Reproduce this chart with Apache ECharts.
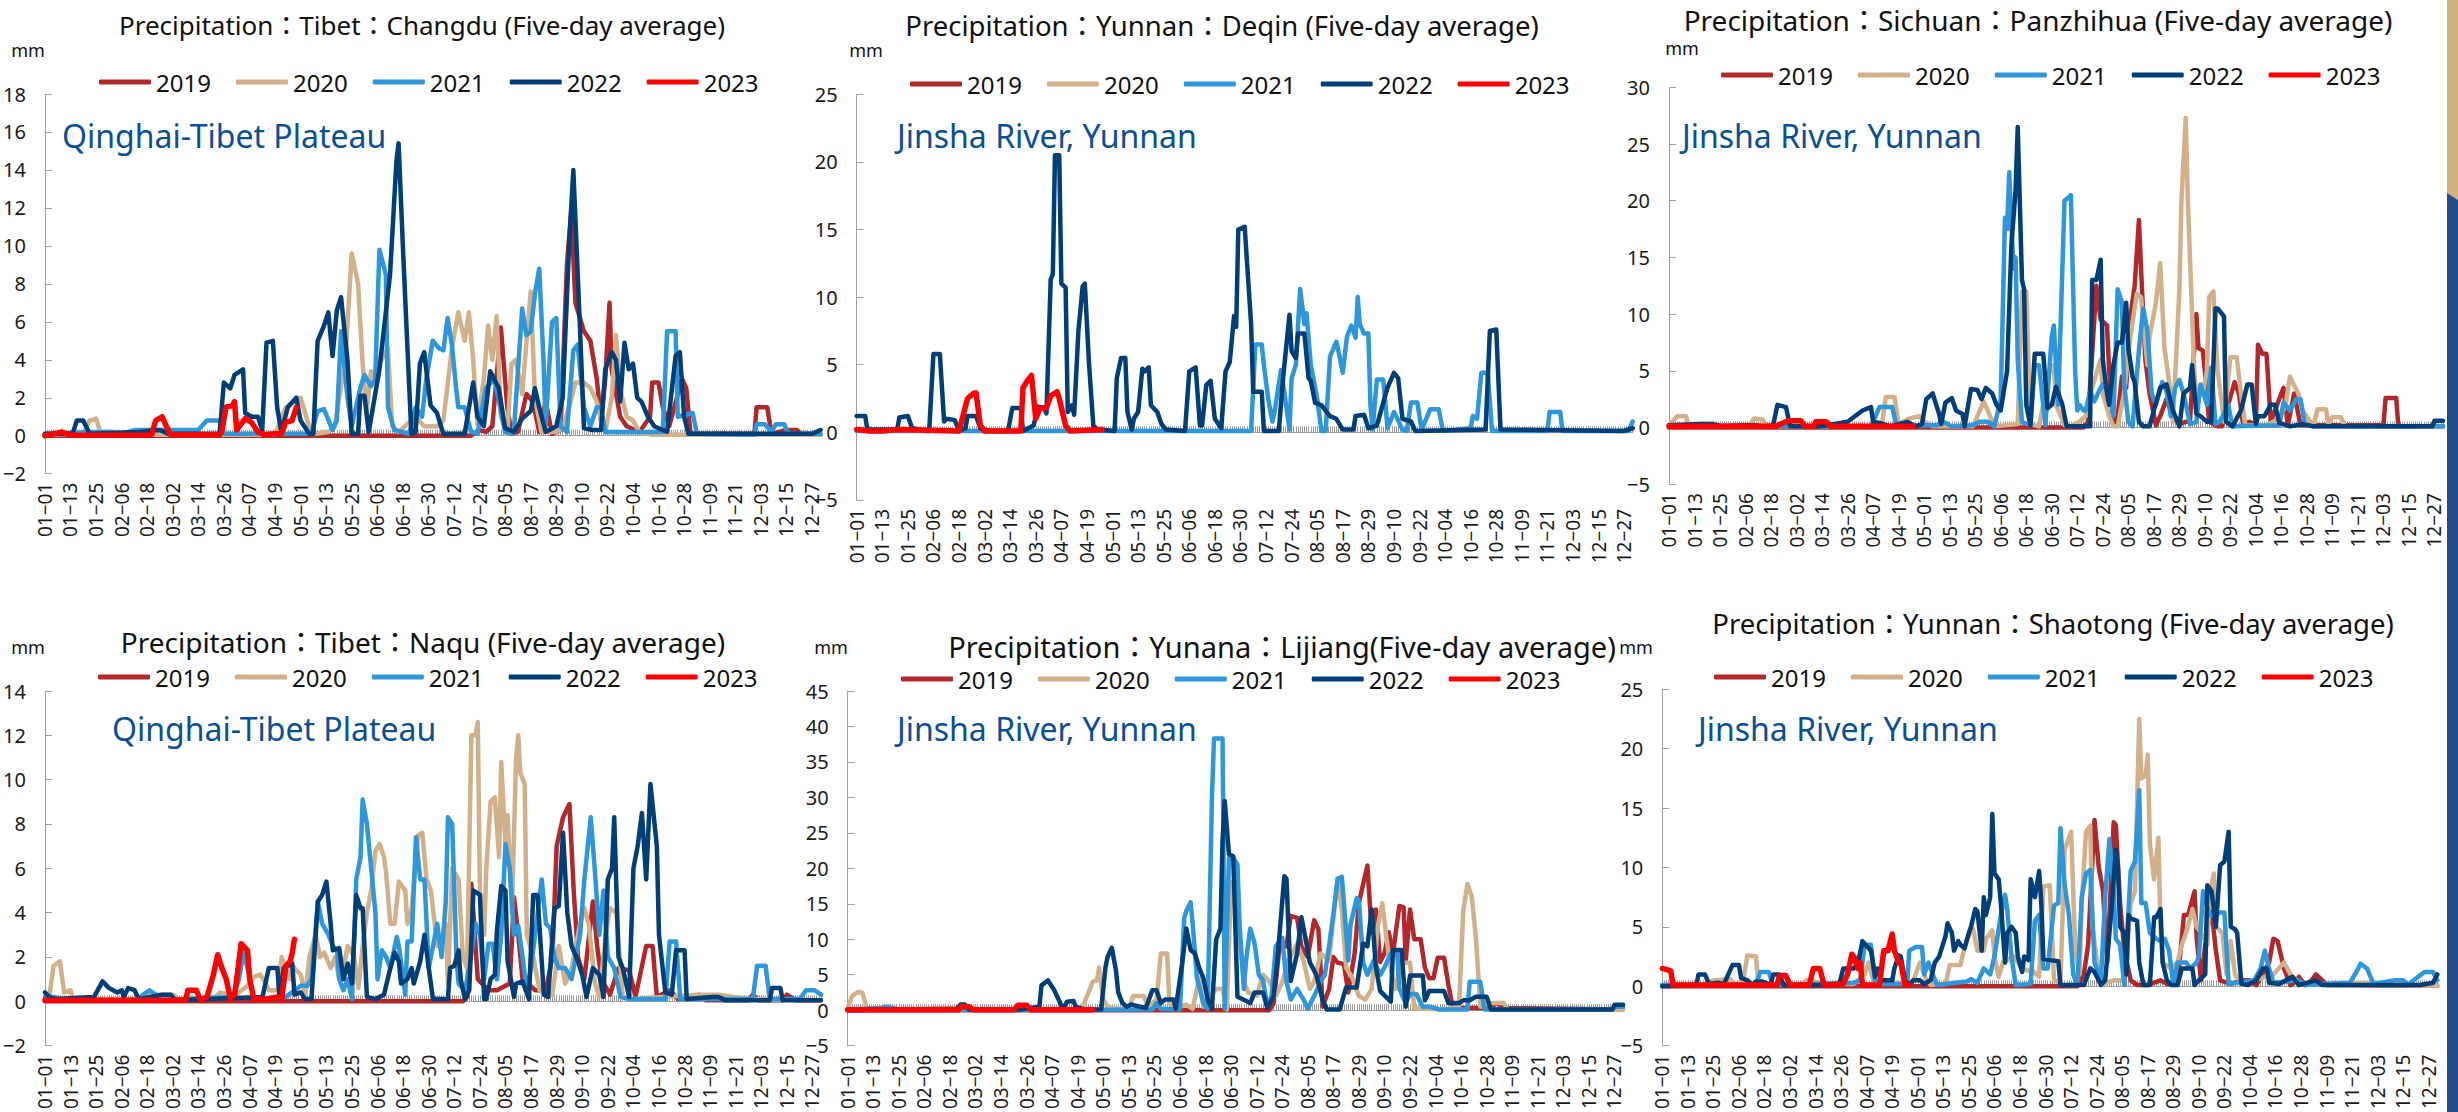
<!DOCTYPE html>
<html><head><meta charset="utf-8">
<script src="https://cdn.jsdelivr.net/npm/echarts/dist/echarts.min.js"></script>
<style>html,body{margin:0;padding:0;background:#fff;}#c{width:2458px;height:1112px;}</style>
</head><body><div id="c"></div>
<script>
// ---------- categories ----------
const monthLengths = [31,28,31,30,31,30,31,31,30,31,30,31];
const days = [];
monthLengths.forEach((n, m) => { for (let d = 1; d <= n; d++) days.push(String(m + 1).padStart(2, '0') + '-' + String(d).padStart(2, '0')); });
const years = ['2019', '2020', '2021', '2022', '2023'];

// ---------- panel texts / axes ----------
const titles = [
  'Precipitation\uFF1ATibet\uFF1AChangdu (Five-day average)',
  'Precipitation\uFF1AYunnan\uFF1ADeqin (Five-day average)',
  'Precipitation\uFF1ASichuan\uFF1APanzhihua (Five-day average)',
  'Precipitation\uFF1ATibet\uFF1ANaqu (Five-day average)',
  'Precipitation\uFF1AYunana\uFF1ALijiang(Five-day average)',
  'Precipitation\uFF1AYunnan\uFF1AShaotong (Five-day average)'
];
const notes = ['Qinghai-Tibet Plateau', 'Jinsha River, Yunnan', 'Jinsha River, Yunnan', 'Qinghai-Tibet Plateau', 'Jinsha River, Yunnan', 'Jinsha River, Yunnan'];
const unitLabel = 'mm';
const yMins = [-2, -5, -5, -2, -5, -5];
const yMaxs = [18, 25, 30, 14, 45, 25];
const ySteps = [2, 5, 5, 2, 5, 5];

// ---------- data: [day-of-year index (0 = 01-01), mm] ----------
const changdu2019 = [[0,0],[200,0],[204,0.3],[207,0.2],[210,0.5],[214,5.7],[217,1.5],[219,0.1],[222,0.2],[226,2.2],[229,1.8],[232,0.2],[235,1.8],[238,0.1],[242,0.3],[245,9.0],[247,11.8],[249,7.0],[253,5.5],[256,5.0],[259,3.0],[261,0.8],[263,3.0],[265,7.0],[266,3.5],[270,1.0],[273,0.5],[279,0.2],[284,1.0],[285,2.8],[288,2.8],[290,1.5],[293,0.5],[299,3.0],[301,2.5],[303,0.1],[333,0.1],[334,1.5],[339,1.5],[341,0.1],[348,0.3],[353,0.3],[355,0.05],[364,0.05]];
const changdu2020 = [[0,0.05],[18,0.1],[21,0.8],[24,0.9],[26,0.2],[32,0.2],[35,0.05],[108,0.05],[113,1.5],[117,1.8],[120,2.0],[124,0.5],[127,0.1],[133,0.2],[136,0.5],[141,4.0],[144,9.6],[147,8.0],[149,4.0],[151,1.2],[153,3.4],[155,3.1],[158,4.0],[161,4.6],[163,0.5],[166,0.2],[174,1.0],[178,0.5],[184,0.5],[187,0.8],[191,4.6],[194,6.5],[197,5.0],[199,6.5],[201,4.0],[203,0.6],[206,3.0],[208,5.8],[210,4.0],[212,6.3],[214,1.0],[217,0.1],[219,3.8],[221,4.0],[224,2.2],[228,7.6],[230,2.0],[233,0.2],[240,0.2],[243,0.4],[246,1.5],[249,2.8],[253,2.8],[256,2.5],[259,1.8],[261,0.8],[263,0.2],[266,2.0],[268,5.3],[270,2.5],[273,1.0],[276,0.8],[279,0.2],[285,0.05],[364,0.05]];
const changdu2021 = [[0,0.1],[24,0.2],[30,0.2],[36,0.1],[42,0.3],[72,0.3],[76,0.8],[82,0.8],[84,0.1],[125,0.1],[128,1.3],[131,1.4],[135,0.3],[137,0.8],[139,5.5],[142,2.0],[144,0.5],[148,2.5],[150,3.2],[153,2.6],[155,3.0],[157,9.8],[160,8.5],[161,1.5],[164,0.3],[171,0.1],[174,1.5],[177,1.0],[179,3.0],[182,5.0],[185,4.6],[187,4.5],[189,6.2],[191,4.8],[193,2.5],[194,1.5],[197,1.5],[200,0.2],[203,0.1],[207,2.5],[211,3.0],[216,0.2],[220,0.1],[224,6.7],[226,5.3],[228,5.5],[230,7.5],[232,8.8],[234,4.0],[235,0.5],[238,6.0],[240,6.2],[242,0.5],[245,0.2],[248,4.5],[250,4.8],[253,1.5],[256,0.5],[259,1.5],[261,1.5],[263,0.2],[290,0.2],[292,5.5],[296,5.5],[297,1.0],[304,1.2],[306,0.1],[333,0.05],[334,0.6],[338,0.6],[341,0.2],[343,0.6],[347,0.6],[349,0.1],[364,0.1]];
const changdu2022 = [[0,0.1],[13,0.1],[15,0.8],[18,0.8],[21,0.1],[44,0.2],[54,0.3],[58,0.1],[82,0.1],[84,2.8],[87,2.5],[89,3.2],[93,3.5],[94,1.2],[97,1.0],[100,1.0],[102,0.3],[104,4.9],[107,5.0],[109,1.5],[111,0.2],[114,1.5],[118,2.0],[120,0.8],[124,0.1],[126,0.1],[128,5.0],[131,5.8],[133,6.5],[135,4.2],[137,6.6],[139,7.3],[142,4.0],[144,0.1],[147,0.1],[148,2.1],[150,2.1],[152,0.2],[157,3.5],[162,8.5],[165,14.5],[166,15.4],[168,10],[170,5],[172,0.1],[174,0.2],[176,3.8],[178,4.4],[181,1.6],[184,1.2],[187,0.1],[197,0.1],[201,2.8],[203,1.0],[206,0.5],[209,3.4],[213,2.5],[216,0.4],[220,0.2],[224,0.9],[228,1.3],[230,2.5],[232,1.5],[235,0.2],[240,0.5],[243,2.0],[246,10],[248,14.0],[251,6],[253,0.4],[257,0.3],[261,0.3],[263,3.5],[266,4.4],[268,4.0],[270,1.8],[272,4.9],[274,3.5],[276,3.8],[278,2.0],[280,1.8],[283,1.0],[286,0.5],[292,0.2],[296,4.2],[298,4.4],[300,1.0],[302,0.1],[360,0.1],[364,0.3]];
const changdu2023 = [[0,0],[4,0.1],[8,0.2],[10,0.1],[14,0.02],[50,0.02],[52,0.8],[55,1.0],[57,0.5],[59,0.05],[82,0.05],[83,0.2],[85,1.5],[88,1.6],[89,1.8],[90,0.3],[94,0.9],[97,0.7],[100,0.2],[103,0.05],[108,0.1],[111,0.1],[113,0.7],[116,0.8],[118,1.5]];

const deqin2019 = [];
const deqin2020 = [];
const deqin2021 = [[0,0.1],[185,0.1],[187,6.5],[190,6.5],[191,5.0],[193,2.5],[195,0.8],[196,1.5],[199,4.6],[201,2.5],[203,0.2],[204,4.0],[206,5.0],[208,10.6],[210,8.0],[211,8.8],[213,5.0],[216,2.5],[218,0.1],[220,0.1],[222,5.6],[225,6.7],[226,6.0],[228,4.4],[230,7.1],[232,7.9],[234,7.0],[235,10.0],[236,8.0],[238,7.3],[240,7.3],[241,2.0],[242,0.2],[244,3.9],[247,3.9],[249,0.3],[252,1.5],[253,1.2],[256,0.2],[258,0.1],[260,2.2],[263,2.2],[265,0.2],[269,1.7],[273,1.7],[275,0.1],[288,0.3],[289,1.2],[291,1.0],[293,4.4],[296,4.4],[298,0.1],[324,0.1],[325,1.5],[330,1.5],[331,0.1],[362,0.1],[364,0.8]];
const deqin2022 = [[0,1.2],[4,1.2],[5,0.2],[19,0.2],[20,1.1],[24,1.2],[26,0.3],[33,0.1],[34,0.1],[36,5.8],[39,5.8],[41,0.8],[42,1.0],[46,0.9],[48,0.1],[51,0.3],[52,1.2],[56,1.2],[58,0.3],[62,0.1],[71,0.1],[73,1.8],[77,1.8],[78,0.1],[83,0.5],[85,1.9],[88,1.8],[89,1.4],[91,11.3],[92,11.7],[93,20.5],[95,20.5],[96,11],[98,10.7],[99,1.5],[101,2.0],[102,1.3],[104,7.5],[106,10.8],[107,11.0],[109,5.0],[111,0.5],[113,0.2],[121,0.1],[122,4.0],[124,5.5],[126,5.5],[127,1.5],[129,0.2],[130,1.0],[132,1.5],[134,4.7],[135,4.5],[137,4.8],[138,2.0],[141,1.5],[143,0.6],[145,0.2],[154,0.1],[156,4.5],[159,4.8],[161,0.5],[162,0.5],[164,3.5],[166,3.8],[168,1.0],[171,0.3],[173,4.5],[175,5.2],[177,8.6],[178,7.8],[179,15.0],[182,15.2],[185,8],[186,3.0],[190,3.0],[191,0.1],[198,0.1],[200,4.0],[203,8.7],[204,6.0],[206,5.5],[207,7.3],[210,7.3],[212,4.0],[213,3.8],[215,2.2],[218,2.0],[222,1.2],[225,1.0],[228,0.2],[233,0.2],[234,1.2],[238,1.3],[240,0.3],[244,0.5],[247,2.2],[249,3.3],[252,4.4],[254,4.0],[256,1.0],[260,0.8],[262,0.1],[295,0.2],[297,7.5],[300,7.6],[302,0.2],[360,0.1],[364,0.3]];
const deqin2023 = [[0,0.2],[6,0.1],[12,0.1],[19,0.2],[48,0.1],[52,2.5],[55,2.9],[56,2.9],[58,0.5],[60,0.1],[77,0.1],[78,3.3],[80,3.8],[82,4.2],[84,1.0],[86,1.8],[89,1.8],[91,2.7],[94,3.0],[95,2.5],[98,0.5],[100,0.1],[115,0.2]];

const panzhihua2019 = [[0,0],[195,0],[197,0.5],[201,12.5],[203,9.5],[206,9.0],[207,5.0],[209,0.2],[211,1.0],[213,4.5],[215,3.5],[217,9.8],[219,12.5],[221,18.3],[222,14],[224,6.0],[226,3.0],[229,0.2],[231,1.0],[234,2.5],[236,1.5],[240,0.3],[243,0.5],[245,0.5],[248,10.0],[249,7.0],[251,6.8],[252,5.0],[254,0.5],[258,0.1],[260,0.1],[266,4.0],[268,3.0],[270,0.3],[273,0.5],[276,0.2],[277,7.3],[279,6.5],[281,6.5],[283,0.5],[289,3.5],[291,0.2],[294,3.0],[297,0.2],[336,0.2],[337,2.6],[342,2.6],[343,0.1],[364,0.1]];
const panzhihua2020 = [[0,0.2],[4,1.0],[8,1.0],[9,0.2],[38,0.2],[40,0.8],[44,0.7],[46,0.1],[100,0.1],[102,2.7],[106,2.7],[108,0.3],[113,0.8],[118,1.0],[120,0.5],[124,0.1],[143,0.1],[148,2.3],[151,1.0],[153,0.1],[164,0.3],[166,12],[168,12],[170,0.3],[174,0.1],[179,5.0],[181,5.5],[182,2.0],[186,0.2],[189,0.1],[193,0.5],[196,1.0],[199,3.5],[203,6.0],[204,3],[207,1.0],[209,0.1],[211,0.1],[214,3.0],[217,8.0],[220,11.8],[222,11.5],[225,5.5],[226,8.0],[229,11.0],[231,14.5],[233,7.0],[236,3.0],[237,0.5],[240,12.0],[241,20.0],[243,27.3],[244,20],[247,5],[248,3.0],[251,3.0],[253,5.0],[254,11.5],[256,12.0],[258,5.0],[261,0.5],[264,6.2],[267,6.2],[269,3.0],[271,0.2],[281,0.2],[287,0.8],[290,2.0],[292,4.5],[294,3.7],[296,3.0],[298,1.5],[303,0.1],[305,1.6],[309,1.6],[310,0.3],[312,0.9],[316,0.9],[318,0.1],[364,0.05]];
const panzhihua2021 = [[0,0.1],[95,0.1],[99,1.8],[105,1.8],[107,0.1],[121,0.2],[126,0.2],[129,0.5],[133,0.1],[143,0.2],[146,0.5],[150,0.5],[153,0.1],[156,2.5],[158,18.5],[159,17.5],[160,22.5],[161,18],[162,14],[163,15],[164,6.0],[165,3.0],[166,0.5],[170,0.2],[172,5.5],[174,5.5],[177,0.2],[180,8.0],[181,9.0],[183,2.0],[186,20],[188,20.3],[189,20.5],[191,5.0],[192,1.5],[193,2.0],[195,1.5],[196,1.5],[198,3.2],[200,2.3],[203,3.5],[204,3.8],[207,3.0],[209,1.0],[211,12.2],[213,11],[214,4],[216,0.5],[218,0.1],[221,6.8],[223,10.5],[225,8.5],[227,3],[229,2.0],[232,4.0],[234,3.2],[236,1.0],[238,3.5],[240,4.2],[242,3.0],[245,0.3],[248,0.5],[250,3.8],[253,2.0],[255,5.3],[257,0.3],[259,0.5],[263,2.0],[265,0.1],[287,0.2],[289,2.2],[292,1.5],[295,2.5],[297,2.5],[299,0.3],[303,0.1],[364,0.1]];
const panzhihua2022 = [[0,0.2],[15,0.3],[21,0.3],[25,0.1],[35,0.2],[40,0.2],[45,0.1],[49,0.2],[51,2.0],[55,1.8],[57,0.1],[71,0.1],[84,0.5],[91,1.5],[95,1.8],[96,0.5],[99,0.4],[104,0.1],[112,0.5],[116,0.1],[119,0.3],[121,2.5],[124,3.0],[127,1.2],[128,0.3],[130,2.2],[133,2.6],[135,1.5],[138,1.2],[139,0.1],[142,3.4],[145,3.3],[147,2.5],[149,3.5],[152,3.0],[154,2.0],[156,1.5],[159,5.0],[161,16.0],[163,21],[164,26.5],[166,13],[167,12.2],[168,2.0],[170,0.2],[172,6.5],[176,6.5],[178,1.7],[180,2.0],[182,3.6],[185,2.0],[187,0.1],[198,0.1],[199,13],[201,13],[203,14.8],[204,6],[206,3.0],[207,2.0],[209,5.5],[211,7.5],[213,7.5],[215,11.0],[216,7],[218,4.5],[219,4.0],[221,0.5],[223,0.1],[226,0.1],[228,1.5],[231,3.5],[234,3.8],[237,1.5],[240,0.1],[242,3.0],[245,3.5],[246,5.5],[248,1.2],[250,1.0],[253,0.5],[255,0.5],[257,10.5],[258,10.5],[261,9.8],[262,0.5],[265,0.1],[269,1.5],[272,3.8],[274,3.8],[276,0.3],[277,1.0],[280,1.0],[283,2.0],[285,2.0],[287,0.4],[292,0.1],[298,0.3],[303,0.1],[359,0.1],[360,0.6],[364,0.6]];
const panzhihua2023 = [[0,0.1],[50,0.1],[56,0.6],[62,0.6],[64,0.1],[68,0.1],[69,0.5],[74,0.5],[76,0.1],[115,0.1]];

const naqu2019 = [[0,0],[196,0],[198,0.2],[200,5.3],[203,1.0],[208,0.5],[212,0.5],[218,0.8],[220,4.7],[222,3.0],[224,1.0],[230,0.5],[235,0.5],[238,2.0],[240,7.0],[243,8.3],[246,8.9],[248,5.0],[250,2.0],[253,1.0],[257,4.5],[259,2.5],[261,1.0],[265,0.3],[269,1.5],[274,1.4],[277,0.2],[282,2.5],[285,2.5],[287,0.2],[293,0.5],[297,0.1],[307,0.3],[310,0.05],[330,0.05],[332,0.3],[335,0.05],[346,0.05],[348,0.3],[352,0.05],[364,0.05]];
const naqu2020 = [[0,0.1],[2,0.2],[4,1.6],[7,1.8],[9,0.4],[12,0.5],[13,0.1],[45,0.1],[49,0.3],[57,0.3],[60,0.3],[63,0.1],[80,0.2],[82,0.4],[87,0.3],[91,0.4],[95,0.7],[98,1.1],[101,1.2],[103,0.9],[105,0.5],[109,0.5],[111,2.0],[113,1.5],[115,1.0],[116,1.6],[119,1.3],[120,1.2],[122,0.2],[124,2.0],[127,3.0],[129,2.0],[131,2.2],[134,1.5],[136,2.0],[138,1.0],[141,2.0],[142,2.5],[145,2.0],[147,0.6],[149,2.5],[151,4.0],[153,5.0],[155,6.8],[157,7.1],[159,6.5],[160,5.8],[162,3.5],[164,3.5],[166,5.4],[169,5.0],[170,3.5],[172,4.2],[175,7.5],[177,7.6],[179,5.5],[181,5.0],[184,2.5],[186,2.5],[188,3.5],[189,0.8],[191,6.0],[194,5.5],[196,2.0],[198,1.5],[200,12.0],[202,12.0],[203,12.6],[204,5.0],[206,3.0],[207,6.0],[209,9.0],[211,9.2],[213,6.5],[214,10.8],[216,7.0],[217,8.4],[219,4.0],[221,11.0],[222,12.0],[223,10.3],[225,9.8],[226,3.0],[229,2.0],[232,0.5],[235,0.3],[238,0.3],[241,2.5],[244,0.8],[247,1.5],[251,3.5],[253,4.2],[255,3.5],[258,0.8],[260,0.2],[263,3.0],[265,4.2],[268,4.0],[271,0.2],[276,0.1],[306,0.3],[316,0.3],[323,0.2],[332,0.1],[364,0.05]];
const naqu2021 = [[0,0.2],[4,0.2],[10,0.05],[44,0.05],[46,0.3],[49,0.5],[52,0.3],[53,0.05],[88,0.2],[91,1.0],[93,2.2],[95,1.5],[98,0.1],[113,0.2],[120,0.7],[123,0.7],[125,1.0],[128,4.5],[130,3.5],[133,3.0],[135,2.5],[137,2.3],[138,1.0],[140,0.5],[142,1.0],[144,0.1],[146,5.5],[148,6.5],[149,9.1],[151,8.0],[153,6.0],[155,4.0],[156,1.0],[158,2.3],[160,2.0],[162,1.5],[165,2.9],[166,2.5],[169,0.3],[170,2.7],[172,2.7],[174,7.4],[176,5.5],[178,5.5],[180,1.5],[182,2.5],[184,3.5],[186,2.0],[188,4.5],[189,8.3],[191,8.0],[193,2.0],[194,0.8],[197,0.5],[199,1.5],[202,3.5],[204,3.0],[206,1.0],[208,2.6],[210,2.6],[212,1.0],[214,3.0],[216,7.1],[218,6.0],[220,3.0],[222,3.4],[224,2.0],[226,0.5],[228,1.5],[233,5.5],[235,3.5],[237,3.3],[239,2.0],[241,1.5],[244,1.5],[247,1.0],[251,3.0],[253,5.5],[256,8.3],[258,5.8],[260,3.0],[262,5.0],[264,2.0],[267,1.5],[270,0.2],[274,0.1],[291,0.1],[293,2.7],[296,2.7],[298,0.1],[332,0.1],[334,1.6],[338,1.6],[340,0.1],[354,0.1],[357,0.5],[361,0.5],[364,0.3]];
const naqu2022 = [[0,0.4],[2,0.2],[5,0.1],[23,0.2],[27,0.9],[30,0.6],[34,0.4],[36,0.5],[37,0.2],[39,0.6],[42,0.5],[44,0.1],[55,0.3],[59,0.3],[61,0.05],[102,0.2],[105,1.5],[109,1.5],[110,0.2],[112,1.5],[116,1.7],[117,0.3],[120,0.4],[122,0.1],[125,0.1],[128,4.5],[130,4.8],[132,5.4],[134,3.5],[135,2.3],[138,2.4],[140,1.0],[142,1.7],[144,0.8],[146,4.8],[148,4.2],[149,4.2],[151,0.2],[155,0.1],[159,0.3],[162,1.5],[164,2.2],[166,1.8],[167,0.8],[170,1.0],[172,1.5],[173,0.8],[176,1.8],[178,3.0],[180,1.5],[182,0.1],[189,0.1],[190,1.5],[192,1.6],[194,2.3],[195,1.0],[197,0.1],[199,0.5],[201,5.0],[204,4.8],[206,0.1],[207,0.1],[209,1.0],[211,1.2],[212,3.2],[214,5.2],[216,5.0],[217,1.8],[220,0.2],[221,0.8],[224,0.9],[227,0.1],[229,4.8],[231,4.8],[234,0.3],[236,0.2],[239,4.2],[241,4.3],[243,7.6],[245,4.0],[247,2.5],[250,1.8],[252,1.2],[254,0.2],[257,1.5],[260,1.2],[262,0.2],[264,5.5],[266,6.0],[267,8.3],[269,2.0],[271,1.5],[274,0.2],[276,6.0],[278,7.0],[280,8.5],[282,5.5],[284,9.8],[287,7.0],[288,3.0],[291,0.4],[294,0.3],[296,2.3],[300,2.3],[301,0.1],[313,0.2],[316,0.2],[319,0.05],[340,0.05],[341,0.6],[345,0.6],[346,0.05],[364,0.05]];
const naqu2023 = [[0,0.05],[66,0.05],[67,0.5],[71,0.5],[73,0.05],[76,0.2],[79,1.2],[81,2.1],[83,1.5],[85,1.0],[87,0.1],[89,0.3],[92,2.6],[95,2.3],[96,1.0],[98,0.1],[104,0.1],[109,0.2],[111,0.1],[113,1.6],[115,1.8],[116,2.2],[117,2.8]];

const lijiang2019 = [[0,0],[198,0],[200,1.0],[203,9.8],[206,9.0],[208,13.3],[211,13.0],[213,9.0],[216,7.5],[219,12.7],[221,11.4],[223,0.5],[226,3.0],[228,7.5],[230,6.7],[233,6.5],[235,2.5],[238,8.0],[240,15.1],[244,20.4],[246,11.0],[248,14.2],[250,6.8],[252,8.0],[254,11.0],[256,8.0],[259,14.7],[261,14.5],[262,7.0],[264,14.2],[266,10.0],[269,10.0],[271,6.0],[273,4.5],[275,4.5],[277,7.4],[280,7.4],[282,3.6],[284,0.5],[289,0.3],[300,0.3],[305,1.0],[308,0.3],[364,0.1]];
const lijiang2020 = [[0,0.2],[2,2.0],[5,2.6],[7,2.4],[9,0.2],[14,0.05],[53,0.3],[59,0.3],[62,0.05],[110,0.2],[115,4.0],[117,4.2],[118,6.0],[120,1.5],[122,0.5],[125,0.2],[132,0.2],[134,2.0],[139,2.0],[141,0.5],[145,1.5],[147,8.0],[150,8.0],[151,1.0],[154,0.3],[159,0.8],[162,0.2],[165,4.5],[167,0.5],[173,3.0],[176,3.0],[178,0.1],[180,18],[183,17],[184,10],[186,4.0],[188,2.5],[192,2.0],[195,5.0],[198,4.0],[201,2.0],[204,4.0],[207,7.0],[211,9.4],[214,7.0],[217,3.0],[219,4.0],[222,8.0],[226,7.0],[230,18.6],[232,14],[234,6.0],[237,4.5],[240,2.0],[243,1.5],[246,3.0],[249,12.0],[251,15.1],[253,10.0],[255,5.8],[257,3.0],[260,6.7],[264,6.7],[266,0.3],[273,0.2],[280,0.1],[287,0.5],[289,14],[291,17.8],[293,16.0],[295,10.0],[297,0.5],[302,1.0],[308,1.0],[310,0.1],[364,0.05]];
const lijiang2021 = [[0,0.1],[15,0.3],[19,0.5],[21,0.3],[25,0.05],[143,0.1],[145,1.0],[147,0.2],[156,0.1],[158,13],[159,14.0],[161,15.2],[162,12],[164,4.5],[167,1.0],[169,0.2],[171,30],[172,38.3],[176,38.3],[177,0.2],[179,21.5],[181,21.5],[183,20.5],[184,12],[186,3.0],[187,7.0],[189,11.5],[191,9.5],[193,5.0],[195,4.2],[197,0.5],[199,2.0],[201,9.0],[204,10.2],[206,4.0],[208,1.5],[211,3.0],[214,1.5],[216,0.2],[219,2.0],[222,4.0],[224,5.0],[226,9.0],[228,13.5],[230,18.5],[232,18.8],[233,15.0],[235,7.0],[236,12],[239,15.8],[240,15.5],[242,6.7],[244,5.0],[247,7.0],[250,5.0],[252,6.0],[255,8.0],[258,8.0],[259,3.0],[262,1.0],[264,2.3],[267,2.3],[270,0.5],[273,0.5],[278,0.1],[291,0.1],[292,4.0],[297,4.0],[299,0.1],[358,0.1],[361,0.5],[364,0.5]];
const lijiang2022 = [[0,0],[51,0.2],[53,0.8],[55,0.8],[57,0.1],[81,0.1],[90,0.5],[91,3.5],[94,4.2],[97,2.8],[99,1.5],[101,0.2],[103,1.2],[106,1.3],[107,0.5],[111,0.1],[119,0.1],[121,6.0],[122,7.5],[124,8.8],[126,5.5],[127,2.5],[129,1.0],[131,0.5],[133,0.8],[137,0.5],[140,0.3],[143,2.8],[145,2.8],[147,1.0],[149,1.5],[153,1.5],[154,0.2],[157,6.5],[159,11.5],[161,8.5],[163,8.0],[165,6.0],[167,4.5],[169,1.5],[171,0.2],[173,10],[175,11.5],[176,24],[177,29.5],[179,22],[181,21.7],[183,1.9],[189,1.0],[191,2.5],[195,2.5],[197,0.3],[200,2.0],[202,8.0],[205,18.9],[206,18.5],[208,4.1],[211,8.0],[213,13.1],[215,10.0],[217,6.7],[220,5.0],[223,1.4],[225,0.1],[231,0.1],[234,3.2],[239,3.2],[242,9.4],[244,9.0],[246,14.2],[248,6.0],[250,2.7],[255,1.2],[256,8.5],[260,8.5],[262,0.5],[264,4.9],[270,4.9],[271,1.4],[273,2.7],[280,2.7],[282,1.0],[287,1.0],[289,1.4],[292,1.4],[295,1.9],[300,1.9],[302,0.1],[359,0.1],[360,0.75],[364,0.75]];
const lijiang2023 = [[0,0.05],[52,0.05],[53,0.5],[57,0.5],[59,0.05],[78,0.05],[80,0.7],[84,0.7],[86,0.05],[115,0.05]];

const shaotong2019 = [[0,0],[195,0],[198,1.0],[200,3.5],[203,14.0],[205,10.0],[207,8.0],[209,2.0],[212,13.8],[213,13.6],[215,7.0],[217,3.0],[220,0.5],[223,0.1],[228,0.1],[231,0.3],[234,0.5],[237,0.2],[242,0.3],[245,6.0],[247,6.0],[250,8.0],[251,4.0],[253,0.5],[254,2.0],[256,5.0],[258,6.3],[260,3.0],[262,0.5],[267,0.2],[272,0.5],[276,0.5],[279,0.1],[285,2.0],[287,4.0],[289,3.8],[292,1.5],[295,0.1],[298,0.5],[299,0.8],[302,0.1],[305,0.5],[307,1.0],[310,0.5],[312,0.1],[364,0.05]];
const shaotong2020 = [[0,0.1],[20,0.1],[24,0.5],[32,0.6],[33,0.3],[36,0.1],[38,0.5],[40,2.6],[44,2.5],[45,0.5],[49,0.2],[58,0.2],[65,0.2],[68,0.5],[74,0.3],[80,0.2],[90,0.2],[95,1.0],[97,2.0],[99,0.5],[105,0.3],[113,0.3],[118,0.5],[121,2.0],[124,0.5],[126,0.1],[133,0.2],[135,1.8],[140,1.8],[143,4.0],[146,4.8],[148,3.0],[151,3.0],[152,4.0],[155,4.7],[156,2.5],[158,0.8],[160,2.0],[165,2.5],[167,2.0],[169,1.5],[172,1.3],[174,1.3],[177,0.8],[179,8.4],[182,8.5],[184,0.5],[187,0.3],[189,11.5],[191,12.5],[192,13.0],[194,3.0],[196,1.0],[197,7.0],[199,13.0],[201,13.5],[202,5.0],[205,1.0],[207,0.2],[212,0.5],[217,0.5],[220,7.0],[222,8.0],[224,22.5],[225,17.5],[227,17.7],[228,19.5],[229,12],[231,9.0],[233,12.5],[234,5],[235,2.0],[239,1.5],[242,2.0],[244,3.5],[246,4.5],[249,6.5],[251,5.0],[253,4.5],[256,3.5],[257,7.5],[259,9.5],[260,5.0],[263,4.5],[265,1.0],[267,3.8],[269,1.0],[272,0.2],[278,0.5],[287,1.0],[292,2.0],[295,1.0],[299,0.3],[307,0.2],[313,0.2],[335,0.3],[340,0.1],[364,0.05]];
const shaotong2021 = [[0,0.1],[44,0.1],[46,1.2],[50,1.2],[52,0.1],[90,0.3],[93,0.5],[95,3.5],[98,3.5],[100,0.2],[115,0.2],[116,3.0],[119,3.3],[122,3.3],[123,1.0],[125,2.0],[126,1.5],[129,0.1],[143,0.4],[145,0.6],[148,0.3],[151,1.5],[154,1.0],[156,2.5],[159,6.0],[161,7.7],[162,6.5],[164,2.5],[166,0.1],[173,0.2],[175,5.5],[177,6.0],[179,1.5],[181,1.5],[184,6.8],[186,7.0],[187,13.3],[189,8.5],[191,6.0],[193,1.0],[195,0.1],[197,7.5],[199,9.5],[201,9.8],[203,2.0],[206,0.5],[208,7.5],[210,12.4],[212,8.0],[213,4.0],[215,3.5],[217,0.1],[220,9.7],[222,10.5],[224,16.5],[225,7.0],[227,7.0],[229,4.5],[232,4.0],[234,3.8],[236,4.0],[238,3.0],[240,0.1],[242,2.0],[246,2.0],[248,1.5],[251,2.0],[252,2.5],[254,8.0],[257,6.0],[259,6.0],[262,6.2],[264,6.2],[266,0.2],[278,0.5],[281,1.5],[283,3.0],[285,1.5],[287,0.3],[299,0.5],[302,0.1],[323,0.3],[326,1.2],[328,1.9],[331,1.5],[334,0.2],[344,0.5],[348,0.5],[350,0.1],[358,1.2],[362,1.2],[364,0.5]];
const shaotong2022 = [[0,0],[16,0.1],[17,1.0],[20,1.0],[22,0.2],[26,0.3],[29,0.2],[33,1.8],[36,1.8],[37,0.7],[40,0.5],[42,0.1],[44,0.4],[47,0.4],[51,0.1],[52,1.0],[55,1.0],[57,0.1],[83,0.1],[85,1.5],[90,1.5],[92,2.0],[94,3.8],[97,3.2],[98,3.0],[100,0.8],[101,1.5],[103,0.5],[108,0.5],[109,1.5],[111,2.6],[112,2.5],[114,0.5],[116,0.1],[118,0.5],[121,0.5],[123,0.2],[126,0.5],[128,2.0],[130,2.5],[133,4.2],[134,5.3],[136,4.5],[137,3.0],[139,3.8],[140,3.5],[142,3.2],[144,4.5],[145,5.0],[147,6.5],[148,6.3],[150,3.0],[151,7.5],[152,6.0],[154,7.5],[155,14.5],[156,9.5],[158,9.0],[159,7.0],[161,2.0],[162,4.5],[164,5.0],[166,4.5],[167,2.5],[169,1.2],[170,2.5],[172,2.2],[173,9.0],[175,7.5],[177,9.7],[178,7.0],[179,2.3],[182,2.2],[186,2.1],[187,0.1],[198,0.1],[201,1.5],[203,1.2],[206,0.1],[208,0.5],[211,6.5],[213,11.5],[214,10],[215,5.0],[217,4.5],[218,1.0],[219,6.0],[220,5.7],[223,5.5],[224,2.0],[226,0.1],[229,0.1],[231,5.8],[232,5.8],[234,6.5],[235,2.0],[237,0.5],[239,0.1],[242,0.1],[244,1.5],[249,1.5],[250,0.1],[252,0.5],[255,1.0],[256,8.5],[258,8.0],[260,5.0],[262,10.2],[264,10.5],[266,13.0],[267,5.0],[269,4.8],[270,4.5],[272,0.2],[275,0.1],[279,0.5],[282,1.5],[284,1.5],[285,0.3],[290,0.2],[293,0.5],[296,0.8],[299,0.1],[307,0.5],[310,0.1],[356,0.1],[362,0.3],[364,1.0]];
const shaotong2023 = [[0,1.5],[4,1.3],[5,0.1],[54,0.1],[55,0.9],[58,0.9],[60,0.1],[69,0.1],[71,1.5],[74,1.5],[76,0.1],[85,0.2],[87,1.0],[89,2.7],[90,2.5],[92,1.5],[93,2.0],[94,0.1],[102,0.1],[104,3.0],[106,3.0],[108,4.4],[109,3.0],[111,2.0],[112,2.0],[114,0.1],[116,0.1]];

const panelData = [
  [changdu2019, changdu2020, changdu2021, changdu2022, changdu2023],
  [deqin2019, deqin2020, deqin2021, deqin2022, deqin2023],
  [panzhihua2019, panzhihua2020, panzhihua2021, panzhihua2022, panzhihua2023],
  [naqu2019, naqu2020, naqu2021, naqu2022, naqu2023],
  [lijiang2019, lijiang2020, lijiang2021, lijiang2022, lijiang2023],
  [shaotong2019, shaotong2020, shaotong2021, shaotong2022, shaotong2023]
];

// ---------- layout & style ----------
const FONT = "'Noto Sans','Noto Sans CJK JP',sans-serif";
const yearColors = ['#B2282A', '#D2B08A', '#2E96DB', '#003E78', '#FF0000'];
const yearWidths = [4.5, 4.5, 4.5, 4.5, 5.5];
const layout = [
  {grid:{left:44, top:94, width:776.5, height:379.7},    tx:422,  ty:25,  ts:26,   lx:94,   ly:80,  nx:62,   ny:135, ux:28,   uy:50},
  {grid:{left:856.7, top:94.3, width:776, height:405.6},  tx:1222, ty:25,  ts:27.5, lx:905,  ly:82,  nx:897,  ny:135, ux:866,  uy:50},
  {grid:{left:1669, top:87.3, width:774, height:396.9},   tx:2038, ty:20,  ts:28,   lx:1716, ly:73,  nx:1682, ny:135, ux:1682, uy:48},
  {grid:{left:45, top:691, width:776, height:389.4},      tx:423,  ty:642, ts:28,   lx:93,   ly:675, nx:112,  ny:728, ux:28,   uy:647},
  {grid:{left:847.7, top:691, width:775.3, height:377.4}, tx:1282, ty:646, ts:29,   lx:896,  ly:677, nx:897,  ny:728, ux:831,  uy:647},
  {grid:{left:1662.3, top:689.3, width:775, height:404.9},tx:2053, ty:623, ts:27.5, lx:1709, ly:675, nx:1698, ny:728, ux:1636, uy:647}
];

const chart = echarts.init(document.getElementById('c'), null, {renderer: 'svg', width: 2458, height: 1112});
const grid = [], xAxis = [], yAxis = [], series = [], legend = [], graphic = [];
const txt = (x, y, text, size, color, align) => ({type: 'text', x, y, silent: true,
  style: {text, fontSize: size, fontFamily: FONT, fill: color, textAlign: align, textVerticalAlign: 'middle', align, verticalAlign: 'middle'}});

layout.forEach((L, i) => {
  grid.push(Object.assign({containLabel: false}, L.grid));
  xAxis.push({type: 'category', gridIndex: i, data: days, boundaryGap: false,
    axisLine: {onZero: true, lineStyle: {color: '#a0a0a0', width: 1}},
    axisTick: {show: true, inside: true, length: 6, interval: 0, lineStyle: {color: '#9a9a9a', width: 1}},
    axisLabel: {interval: 11, rotate: 90, margin: 9, fontSize: 19, fontFamily: FONT, color: '#1a1a1a',
      formatter: v => v.replace('-', '\u2212')},
    splitLine: {show: false}});
  yAxis.push({type: 'value', gridIndex: i, min: yMins[i], max: yMaxs[i], interval: ySteps[i],
    axisLine: {show: true, onZero: false, lineStyle: {color: '#a0a0a0', width: 1}},
    axisTick: {show: true, inside: true, length: 7, lineStyle: {color: '#a0a0a0'}},
    axisLabel: {margin: 19, fontSize: 20, fontFamily: FONT, color: '#1a1a1a',
      formatter: v => (v < 0 ? '\u2212' + Math.abs(v) : String(v))},
    splitLine: {show: false}});
  panelData[i].forEach((d, k) => {
    series.push({type: 'line', name: years[k], xAxisIndex: i, yAxisIndex: i, data: d,
      symbol: 'none', showSymbol: false, smooth: false, silent: true, z: 2 + k,
      lineStyle: {color: yearColors[k], width: yearWidths[k], cap: 'round', join: 'round'},
      itemStyle: {color: yearColors[k]}});
  });
  legend.push({left: L.lx, top: L.ly - 15, data: years, icon: 'roundRect', itemWidth: 52, itemHeight: 5,
    itemGap: 25, selectedMode: false, textStyle: {fontSize: 24, fontFamily: FONT, color: '#111'}});
  graphic.push(txt(L.tx, L.ty, titles[i], L.ts, '#111', 'center'));
  graphic.push(txt(L.nx, L.ny, notes[i], 32, '#0A4E96', 'left'));
  graphic.push(txt(L.ux, L.uy, unitLabel, 18, '#111', 'center'));
});

// decorative right edge band
graphic.push({type: 'polygon', silent: true, shape: {points: [[2447,0],[2458,0],[2458,200],[2447,193]]}, style: {fill: '#D4B17A'}});
graphic.push({type: 'polygon', silent: true, shape: {points: [[2447,193],[2458,200],[2458,1112],[2447,1112]]}, style: {fill: '#1F4B86'}});

chart.setOption({animation: false, backgroundColor: '#fff', grid, xAxis, yAxis, series, legend, graphic});
</script></body></html>
